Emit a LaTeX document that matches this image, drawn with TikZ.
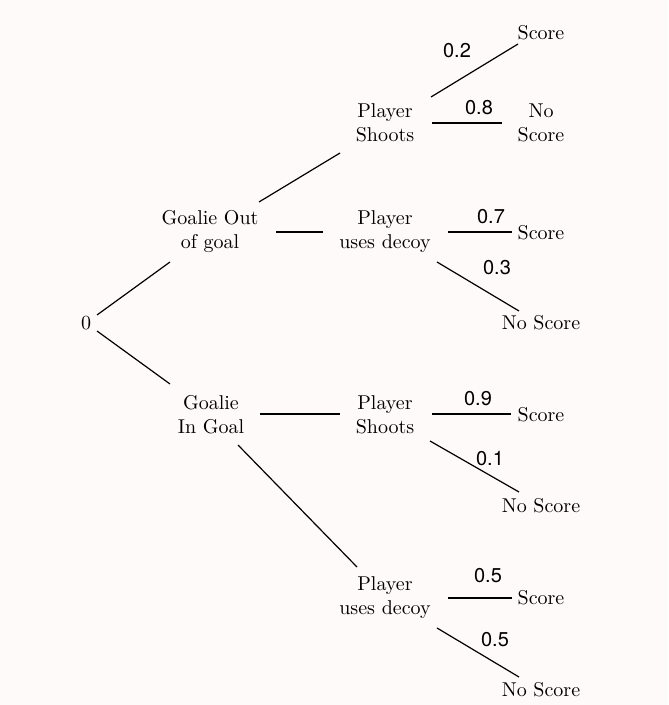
\documentclass[tikz,border=0pt]{standalone}
\usepackage{fontspec}
\newfontfamily\labelfont{TeX Gyre Heros}
\definecolor{bgcol}{HTML}{FEFAF9}
\begin{document}
\begin{tikzpicture}[x=0.5pt,y=-0.5pt,
  txt/.style={inner sep=0pt,align=center,font=\fontsize{10}{12}\selectfont},
  prob/.style={inner sep=0pt,font=\labelfont\fontsize{10}{12}\selectfont},
  branch/.style={line width=0.6pt,black}]
\fill[bgcol] (0,0) rectangle (668,705);
\useasboundingbox (0,0) rectangle (668,705);
% nodes
\node[txt] (zero) at (86,323) {0};
\node[txt] (GO) at (210,232) {Goalie Out\\of goal};
\node[txt] (GI) at (211,415) {Goalie\\In Goal};
\node[txt] (PS1) at (385,123) {Player\\Shoots};
\node[txt] (PD1) at (385,232) {Player\\uses decoy};
\node[txt] (PS2) at (385,415) {Player\\Shoots};
\node[txt] (PD2) at (385,598) {Player\\uses decoy};
\node[txt] (L1) at (541,33) {Score};
\node[txt] (L2) at (541,123) {No\\Score};
\node[txt] (L3) at (541,233) {Score};
\node[txt] (L4) at (541,323) {No Score};
\node[txt] (L5) at (541,415) {Score};
\node[txt] (L6) at (541,506) {No Score};
\node[txt] (L7) at (541,598) {Score};
\node[txt] (L8) at (541,690) {No Score};
% connectors
\draw[branch] ([shift={(11,-8)}]zero.center) -- ([shift={(-40,30)}]GO.center);
\draw[branch] ([shift={(11,8)}]zero.center) -- ([shift={(-41,-31)}]GI.center);
\draw[branch] ([shift={(49,-30)}]GO.center) -- ([shift={(-45,30)}]PS1.center);
\draw[branch] ([shift={(66,0)}]GO.center) -- ([shift={(-62,0)}]PD1.center);
\draw[branch] ([shift={(49,-1)}]GI.center) -- ([shift={(-45,-1)}]PS2.center);
\draw[branch] ([shift={(27,30)}]GI.center) -- ([shift={(-28,-31)}]PD2.center);
\draw[branch] ([shift={(46,-26)}]PS1.center) -- ([shift={(-23,11)}]L1.center);
\draw[branch] ([shift={(47,0)}]PS1.center) -- ([shift={(-39,0)}]L2.center);
\draw[branch] ([shift={(63,0)}]PD1.center) -- ([shift={(-29,-1)}]L3.center);
\draw[branch] ([shift={(52,30)}]PD1.center) -- ([shift={(-22,-12)}]L4.center);
\draw[branch] ([shift={(47,-1)}]PS2.center) -- ([shift={(-30,-1)}]L5.center);
\draw[branch] ([shift={(45,26)}]PS2.center) -- ([shift={(-22,-14)}]L6.center);
\draw[branch] ([shift={(63,0)}]PD2.center) -- ([shift={(-29,0)}]L7.center);
\draw[branch] ([shift={(52,30)}]PD2.center) -- ([shift={(-22,-13)}]L8.center);
% probability labels
\node[prob] (p1) at (457,51) {0.2};
\node[prob] (p2) at (479,108) {0.8};
\node[prob] (p3) at (491,217) {0.7};
\node[prob] (p4) at (497,268) {0.3};
\node[prob] (p5) at (478,399) {0.9};
\node[prob] (p6) at (490,459) {0.1};
\node[prob] (p7) at (488,576) {0.5};
\node[prob] (p8) at (495,640) {0.5};
\end{tikzpicture}
\end{document}
